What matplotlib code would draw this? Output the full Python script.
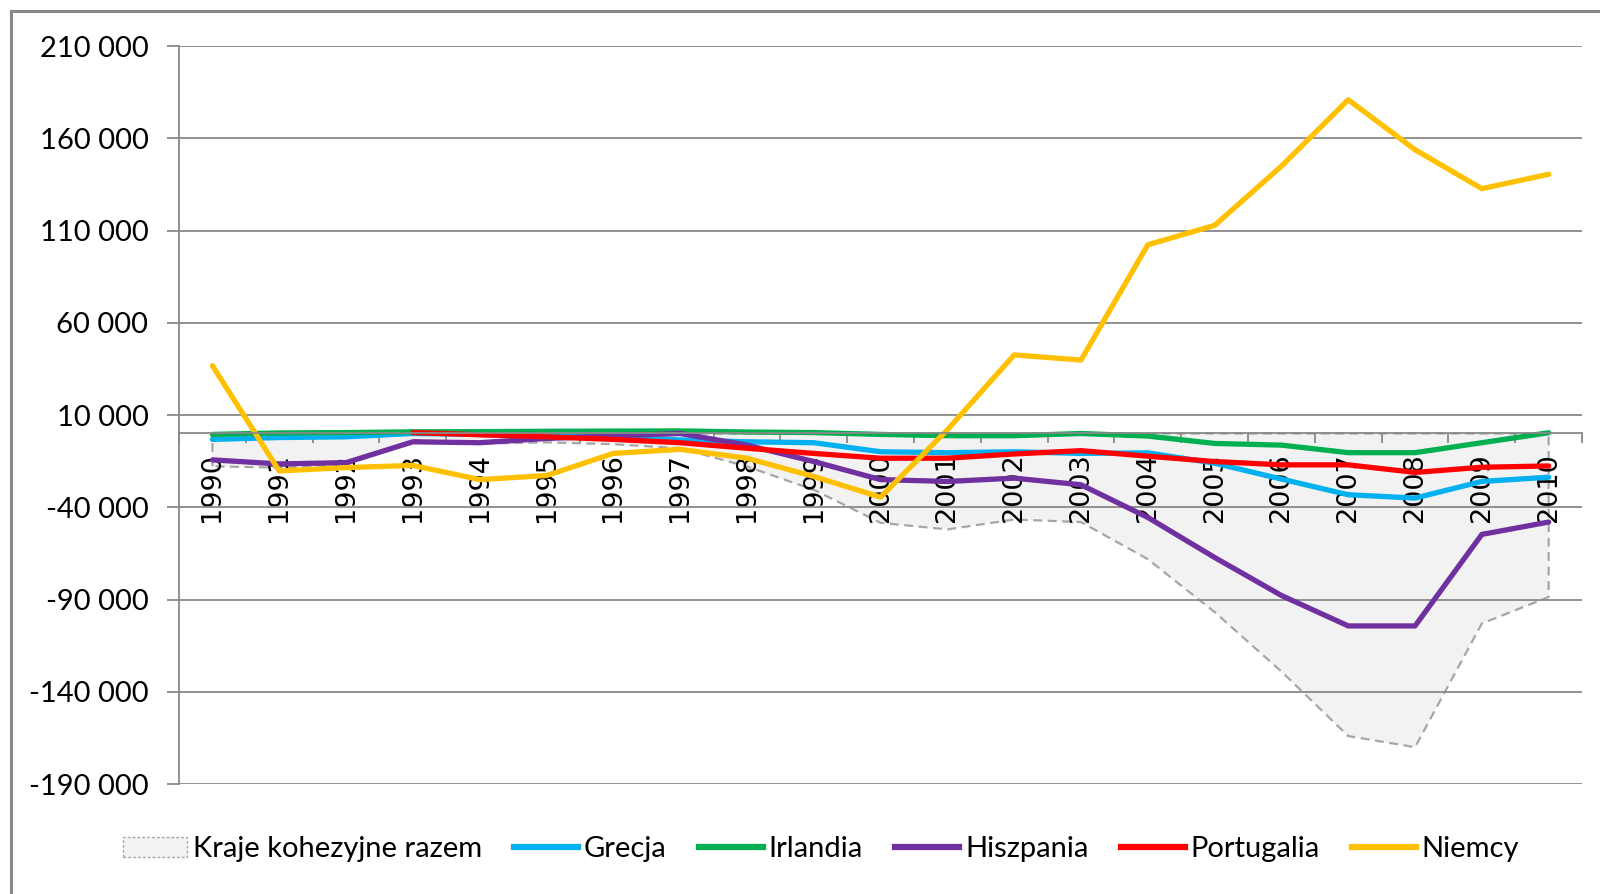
import numpy as np
import matplotlib
matplotlib.use("Agg")
import matplotlib.pyplot as plt
from matplotlib.patches import Patch
from matplotlib.lines import Line2D
from matplotlib.ticker import FixedLocator, FuncFormatter

# values in thousands
years = list(range(1990, 2011))
kraje_razem = [-17.8, -18.5, -17.2, -3.5, -5.5, -4.8, -5.8, -8.0, -17.9, -30.5, -48.4,
               -52.0, -46.6, -48.0, -68.1, -96.8, -129.0, -164.0, -170.0, -103.0, -88.6]
grecja = [-3.2, -2.2, -1.8, 0.0, -0.5, -1.0, -2.0, -3.5, -4.5, -5.0, -9.9,
          -10.4, -9.9, -10.8, -10.5, -16.1, -24.7, -33.2, -35.0, -26.0, -23.7]
irlandia = [-0.5, 0.3, 0.5, 0.9, 1.0, 1.2, 1.3, 1.4, 0.8, 0.5, -0.5,
            -1.2, -1.2, 0.0, -1.4, -5.4, -6.3, -10.4, -10.4, -5.0, 0.4]
hiszpania = [-14.3, -16.5, -15.8, -4.5, -5.0, -2.7, -1.3, 0.0, -6.3, -15.2, -25.0,
             -26.0, -24.2, -27.8, -45.5, -67.2, -87.8, -104.3, -104.3, -54.7, -48.0]
portugalia = [np.nan, np.nan, np.nan, 0.5, -0.7, -1.8, -3.2, -5.0, -8.0, -10.8, -13.4,
              -13.4, -11.1, -9.3, -12.3, -15.2, -17.0, -17.0, -21.1, -18.3, -17.6]
niemcy = [36.7, -20.3, -18.5, -17.3, -25.0, -22.8, -10.8, -8.6, -13.4, -23.3, -34.5,
          2.0, 42.6, 39.8, 102.3, 112.8, 144.9, 180.9, 153.8, 132.7, 140.5]
y_ticks = [-190000, -140000, -90000, -40000, 10000, 60000, 110000, 160000, 210000]

series = [("Grecja", grecja, "#00B0F0"),
          ("Irlandia", irlandia, "#00B050"),
          ("Hiszpania", hiszpania, "#7030A0"),
          ("Portugalia", portugalia, "#FF0000"),
          ("Niemcy", niemcy, "#FFC000")]
GRID = "#898989"

fig = plt.figure(figsize=(16, 8.94), dpi=100)
ax = fig.add_axes([0.1119, 0.1230, 0.8769, 0.8255])

# move the category axis to zero first (this resets the ticks)
ax.spines["bottom"].set_position(("data", 0))
for s in ("top", "right"):
    ax.spines[s].set_visible(False)
for s in ("left", "bottom"):
    ax.spines[s].set_color(GRID)
    ax.spines[s].set_linewidth(1.3)

x = np.array(years)
total = np.array(kraje_razem) * 1000
ax.fill_between(x, 0, total, facecolor="#F2F2F2", edgecolor="#A6A6A6",
                linestyle=(0, (4, 2.5)), lw=1.6, zorder=0.5)
for name, vals, col in series:
    ax.plot(x, np.array(vals) * 1000, color=col, lw=3.8, zorder=2,
            solid_capstyle="round", solid_joinstyle="round")

ax.set_xlim(1989.5, 2010.5)
ax.set_ylim(-190000, 210000)
ax.yaxis.set_major_locator(FixedLocator(y_ticks))
ax.yaxis.set_major_formatter(FuncFormatter(lambda v, p: f"{int(v):,}".replace(",", " ")))
ax.grid(axis="y", color=GRID, lw=1.3)
ax.set_axisbelow("line")

ax.set_xticks(years)
ax.set_xticks(np.arange(1989.5, 2011, 1.0), minor=True)
ax.set_xticklabels([str(y) for y in years], rotation=90, family="DejaVu Sans", fontsize=19.5)
ax.tick_params(axis="x", which="major", length=0, pad=14)
ax.tick_params(axis="x", which="minor", length=7, width=1.3, color=GRID, direction="out")
ax.tick_params(axis="y", length=9, width=1.3, color=GRID, pad=13, labelsize=21)
for lab in ax.get_yticklabels():
    lab.set_family("Lato")

handles = [Patch(facecolor="#F2F2F2", edgecolor="#A6A6A6", linestyle=(0, (2, 1.5)), lw=1)]
labels = ["Kraje kohezyjne razem"]
for name, vals, col in series:
    handles.append(Line2D([], [], color=col, lw=4.5))
    labels.append(name)
fig.legend(handles, labels, loc="center", bbox_to_anchor=(821 / 1600, 1 - 849 / 894),
           ncol=6, frameon=False, prop={"family": "Lato", "size": 21},
           handlelength=2.2, handleheight=0.7, handletextpad=0.2, columnspacing=1.1)

# chart border (only left and top edges fall inside the picture)
bx, by = 11 / 1600, 1 - 11 / 894
fig.add_artist(Line2D([bx, bx], [0, by], transform=fig.transFigure, color=GRID, lw=2.2))
fig.add_artist(Line2D([bx, 1], [by, by], transform=fig.transFigure, color=GRID, lw=2.2))

fig.savefig("out.png", dpi=100)
